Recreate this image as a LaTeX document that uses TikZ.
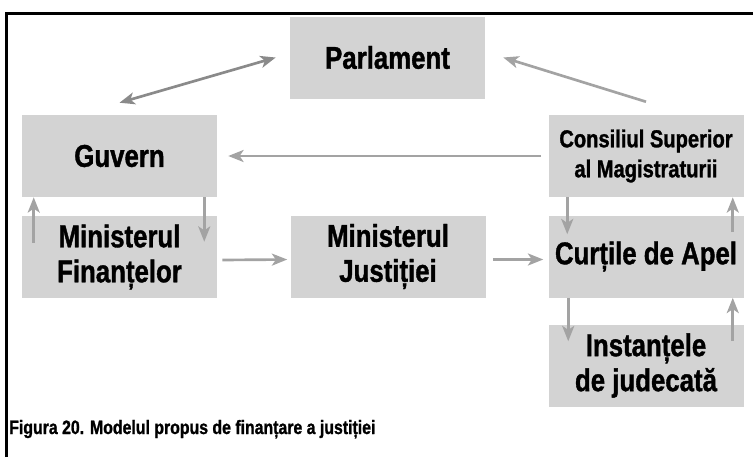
\documentclass[tikz,border=0pt]{standalone}
\usepackage{fontspec}
\setmainfont{Liberation Sans}[FakeStretch=0.82,BoldFeatures={FakeBold=1.2}]
\usetikzlibrary{arrows.meta}
\definecolor{boxgray}{HTML}{D3D3D3}
\definecolor{arrgray}{HTML}{A3A3A3}
\definecolor{dblgray}{HTML}{8A8A8A}
\newcommand{\boxfont}{\bfseries\fontsize{23.6}{26.25}\selectfont}

\begin{document}
\begin{tikzpicture}[x=0.75pt,y=-0.75pt,
  box/.style={fill=boxgray,minimum width=146.25pt,minimum height=61.5pt,inner sep=0pt,align=center,font=\boxfont},
  arr/.style={draw=arrgray,line width=2pt,-{Stealth[length=11.5pt,width=9pt,inset=3pt]}},
  dblarr/.style={draw=dblgray,line width=2pt,{Stealth[length=11.5pt,width=9pt,inset=3pt]}-{Stealth[length=11.5pt,width=9pt,inset=3pt]}}]
\useasboundingbox (0,0) rectangle (753,457);
\draw[line width=2.25pt] (6,457) -- (6,13) -- (753,13);
\node[box] (P) at (387.5,57.5) {Parlament};
\node[box] (G) at (119.5,156) {Guvern};
\node[box,font=\bfseries\fontsize{18.4}{22.5}\selectfont] (CSM) at (646,156) {Consiliul Superior\\al Magistraturii};
\node[box] (MF) at (119.5,257) {Ministerul\\Finanțelor};
\node[box] (MJ) at (388,256.5) {Ministerul\\Justiției};
\node[box] (CA) at (646,256.5) {Curțile de Apel};
\node[box] (IJ) at (646,365.5) {Instanțele\\de judecată};
\node[anchor=base west,inner sep=0pt,font=\bfseries\fontsize{14.5}{16}\selectfont] (fig) at (9,434) {Figura 20. Modelul propus de finanțare a justiției};
\draw[dblarr] ([yshift=9pt]G.north) -- ([xshift=-10.5pt]P.west);
\draw[arr] ([yshift=9.75pt]CSM.north) -- ([xshift=13.5pt]P.east);
\draw[arr] ([xshift=-5.25pt]CSM.west) -- ([xshift=8.25pt]G.east);
\draw[arr] ([xshift=9pt,yshift=-20.25pt]MF.north west) -- ([xshift=9pt]G.south west);
\draw[arr] ([xshift=-9.75pt]G.south east) -- ([xshift=-9.75pt,yshift=-19.5pt]MF.north east);
\draw[arr] ([xshift=3.75pt,yshift=-2.25pt]MF.east) -- ([xshift=-2.25pt,yshift=-2.25pt]MJ.west);
\draw[arr] ([xshift=5.25pt,yshift=-2.25pt]MJ.east) -- ([xshift=-3.75pt,yshift=-2.25pt]CA.west);
\draw[arr] ([xshift=14.25pt]CSM.south west) -- ([xshift=14.25pt,yshift=-14.25pt]CA.north west);
\draw[arr] ([xshift=-8.25pt,yshift=-12.75pt]CA.north east) -- ([xshift=-8.25pt]CSM.south east);
\draw[arr] ([xshift=15pt]CA.south west) -- ([xshift=15pt,yshift=-12.75pt]IJ.north west);
\draw[arr] ([xshift=-8.25pt,yshift=-12.75pt]IJ.north east) -- ([xshift=-8.25pt]CA.south east);
\end{tikzpicture}
\end{document}
